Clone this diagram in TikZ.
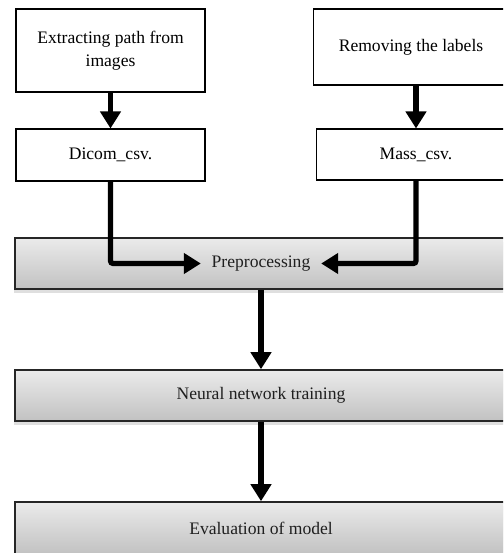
\documentclass[tikz,border=0pt]{standalone}
\usepackage{fontspec}
\setmainfont{Liberation Serif}
\usetikzlibrary{shapes, arrows.meta, positioning, calc, shadows}

\begin{document}
\begin{tikzpicture}[x=0.02cm, y=-0.02cm,
		whitebox/.style={rectangle, draw, line width=0.6pt, fill=white, align=center, font=\fontsize{10}{13}\selectfont},
		graybox/.style={rectangle, draw=black!85, line width=0.9pt, top color=black!8, bottom color=black!24, minimum width=9.84cm, minimum height=1.02cm, drop shadow={opacity=0.25, shadow xshift=-0.5pt, shadow yshift=-2.5pt}},
		boxtext/.style={font=\fontsize{10}{12}\selectfont, text=black!88, inner sep=6pt},
		thickarrow/.style={line width=3pt, rounded corners=1.5pt, -{Triangle[width=0.4cm, length=0.34cm]}}]
			\useasboundingbox (0, 0) rectangle (503, 553);
			\clip (0, 0) rectangle (503, 553);
			
			% Input boxes
			\node[whitebox, minimum width=3.78cm, minimum height=1.66cm] (extract) at (110.5, 50.5) {Extracting path from\\images};
			\node[whitebox, minimum width=3.78cm, minimum height=1.04cm] (dicom) at (110.5, 155) {Dicom\_csv.};
			\node[whitebox, minimum width=3.9cm, minimum height=1.52cm] (remove) at (411, 47) {Removing the labels};
			\node[whitebox, minimum width=4.0cm, minimum height=1.02cm] (mass) at (416, 154.5) {Mass\_csv.};
			
			% Processing steps
			\node[graybox] (prep) at (261, 263.5) {};
			\node[boxtext] (preptxt) at (prep.center) {Preprocessing};
			\node[graybox] (train) at (261, 395.5) {};
			\node[boxtext] at (train.center) {Neural network training};
			\node[graybox, minimum height=1.04cm] (eval) at (261, 528) {};
			\node[boxtext] at (eval.center) {Evaluation of model};
			
			% Connections
			\draw[thickarrow] (extract.south) -- (dicom.north);
			\draw[thickarrow] (mass.north |- remove.south) -- (mass.north);
			\draw[thickarrow] (dicom.south) |- (preptxt.west);
			\draw[thickarrow] (mass.south) |- (preptxt.east);
			\draw[thickarrow] (prep.south) -- (train.north);
			\draw[thickarrow] (train.south) -- (eval.north);
		\end{tikzpicture}
\end{document}
